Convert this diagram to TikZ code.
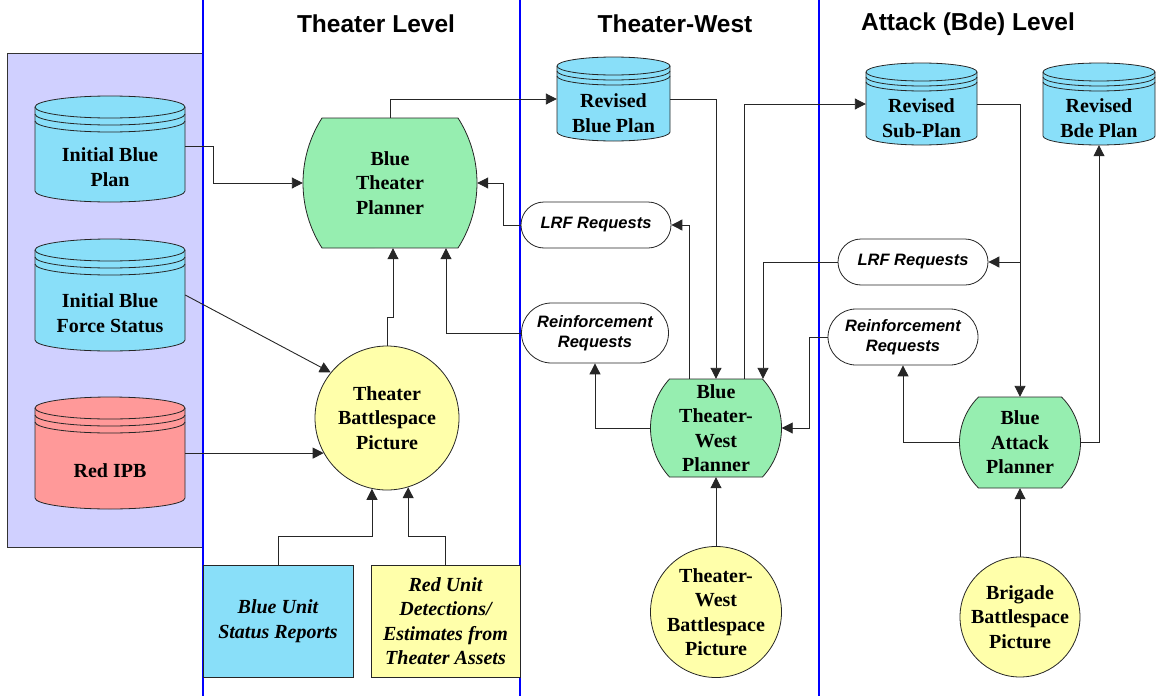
\documentclass[tikz,border=0pt]{standalone}
\usepackage{fontspec}
\setmainfont{Liberation Serif}
\newfontfamily\arialfont{Liberation Sans}
\usetikzlibrary{arrows.meta,calc,shapes.misc}

\definecolor{dbblue}{HTML}{89DFF9}
\definecolor{dbred}{HTML}{FF9999}
\definecolor{plangreen}{HTML}{96EEB0}
\definecolor{picyellow}{HTML}{FFFFAA}
\definecolor{lanefill}{HTML}{D0D0FF}
\definecolor{laneline}{HTML}{0000FF}

\tikzset{
  lbl/.style={font=\fontsize{20}{24.5}\selectfont\bfseries, align=center, text=black, inner sep=0pt},
  outline/.style={draw=black!85, line width=0.8pt},
  title/.style={font=\arialfont\fontsize{24.5}{28}\selectfont\bfseries, inner sep=0pt},
  request/.style={rounded rectangle, outline, fill=white, align=center, inner sep=0pt,
    font=\arialfont\fontsize{16.5}{20}\selectfont\bfseries\itshape},
  picture/.style={lbl, circle, outline, fill=picyellow},
  inputbox/.style={lbl, outline, font=\fontsize{20}{24.5}\selectfont\bfseries\itshape},
  link/.style={draw=black!85, line width=0.9pt},
  arr/.style={link, -{Triangle[length=11pt,width=11pt]}},
  lane/.style={draw=laneline, line width=1.3pt}
}

% planner: barrel-shaped box with bulging sides
% #1 name, #2 cx, #3 cy, #4 width, #5 height, #6 text
\newcommand\plannernode[6]{%
  \pgfmathsetmacro\pnHalfH{#5/2}%
  \pgfmathsetmacro\pnR{(\pnHalfH*\pnHalfH+19*19)/38}%
  \pgfmathsetmacro\pnA{asin(\pnHalfH/\pnR)}%
  \filldraw[outline, fill=plangreen]
    (#2-#4/2+19,#3-#5/2) -- (#2+#4/2-19,#3-#5/2)
    arc[start angle=-\pnA, end angle=\pnA, radius=\pnR]
    -- (#2-#4/2+19,#3+#5/2)
    arc[start angle=180-\pnA, end angle=180+\pnA, radius=\pnR] -- cycle;
  \node[lbl, minimum width=#4, minimum height=#5] (#1) at (#2,#3) {#6};
}

% data store: cylinder with a triple-lined lid
% #1 name, #2 cx, #3 top, #4 width, #5 height, #6 lid radius, #7 fill, #8 text
\newcommand\storenode[8]{%
  \pgfmathsetmacro\dbL{#2-#4/2}%
  \pgfmathsetmacro\dbR{#2+#4/2}%
  \pgfmathsetmacro\dbRx{#4/2}%
  \pgfmathsetmacro\dbTop{#3+#6}%
  \pgfmathsetmacro\dbBot{#3+#5-#6}%
  \pgfmathsetmacro\dbGap{#6-4}%
  \filldraw[outline, fill=#7] (\dbL,\dbTop) -- (\dbL,\dbBot)
    arc[start angle=180, end angle=0, x radius=\dbRx, y radius=#6]
    -- (\dbR,\dbTop)
    arc[start angle=0, end angle=-180, x radius=\dbRx, y radius=#6] -- cycle;
  \draw[outline] (\dbL,\dbTop) arc[start angle=180, end angle=0, x radius=\dbRx, y radius=#6];
  \draw[outline] (\dbL,\dbTop+\dbGap) arc[start angle=180, end angle=0, x radius=\dbRx, y radius=#6];
  \draw[outline] (\dbL,\dbTop+2*\dbGap) arc[start angle=180, end angle=0, x radius=\dbRx, y radius=#6];
  \pgfmathsetmacro\dbTxtTop{#3+2*#6+2*\dbGap}%
  \pgfmathsetmacro\dbTxtH{#3+#5-\dbTxtTop}%
  \pgfmathsetmacro\dbTxtC{(\dbTxtTop+#3+#5)/2}%
  \node[lbl, minimum width=#4, minimum height=\dbTxtH] (#1) at (#2,\dbTxtC) {#8};
}

\begin{document}
\begin{tikzpicture}[x=1pt,y=-1pt]
\useasboundingbox (0,0) rectangle (1156,696);

% input lane and lane separators
\filldraw[fill=lanefill, draw=black!80, line width=0.8pt] (7,53) rectangle (203,547);
\draw[lane] (203,0) -- (203,696);
\draw[lane] (520,0) -- (520,696);
\draw[lane] (819,0) -- (819,696);

% lane headings
\node[title] (hTheater) at (376,24) {Theater Level};
\node[title] (hWest) at (675,24) {Theater-West};
\node[title] (hAttack) at (968,24) {Attack (Bde) Level};

% data stores
\storenode{ibp}{110}{96}{150}{106}{11}{dbblue}{Initial Blue\\Plan}
\storenode{ibfs}{110}{239}{150}{112}{11}{dbblue}{Initial Blue\\Force Status}
\storenode{ripb}{110}{397}{150}{112}{11}{dbred}{Red IPB}
\storenode{rbp}{613.5}{57}{113}{84}{9}{dbblue}{Revised\\Blue Plan}
\storenode{rsp}{921.5}{63}{111}{82}{9}{dbblue}{Revised\\Sub-Plan}
\storenode{rbde}{1099}{63}{112}{82}{9}{dbblue}{Revised\\Bde Plan}

% planners
\plannernode{btp}{390}{183}{174}{130}{Blue\\Theater\\Planner}
\plannernode{btwp}{716}{428}{131}{98}{Blue\\Theater-\\West\\Planner}
\plannernode{bap}{1020}{442.5}{121}{91}{Blue\\Attack\\Planner}

% battlespace pictures
\node[picture, minimum size=144] (tbp) at (387,418) {Theater\\Battlespace\\Picture};
\node[picture, minimum size=130] (twbp) at (716,612) {Theater-\\West\\Battlespace\\Picture};
\node[picture, minimum size=120] (bbp) at (1020,617) {Brigade\\Battlespace\\Picture};

% requests
\node[request, minimum width=150, minimum height=46] (lrfw) at (596,225) {LRF Requests};
\node[request, minimum width=147, minimum height=60] (reinfw) at (595,333) {Reinforcement\\Requests};
\node[request, minimum width=150, minimum height=46] (lrfa) at (913,262) {LRF Requests};
\node[request, minimum width=150, minimum height=56] (reinfa) at (903,337) {Reinforcement\\Requests};

% theater inputs
\node[inputbox, fill=dbblue, minimum width=150, minimum height=112] (bus) at (278,621) {Blue Unit\\Status Reports};
\node[inputbox, fill=picyellow, minimum width=149, minimum height=112] (rud) at (445.5,621) {Red Unit\\Detections/\\Estimates from\\Theater Assets};

% theater level flows
\draw[arr] ([yshift=21pt]ibp.east) -- ++(28,0) |- (btp.west);
\draw[arr] ([yshift=18pt]ibfs.east) -- (tbp.141);
\draw[arr] (ripb.east |- tbp.209) -- (tbp.209);
\draw[arr] (tbp.north) -- ++(0,-28) -| ([xshift=3pt]btp.south);
\draw[arr] (reinfw.west) -| ([xshift=56pt]btp.south);
\draw[arr] (lrfw.west) -- ++(-17,0) |- (btp.east);
\draw[arr] (btp.north) |- ([yshift=14pt]rbp.west);
\draw[arr] (bus.north) -- ++(0,-28) -| (tbp.258);
\draw[arr] (rud.north) -- ++(0,-28) -| (tbp.287);

% theater-west flows
\draw[arr] ([yshift=14pt]rbp.east) -| (btwp.north);
\draw[arr] ([xshift=-27pt]btwp.north) |- (lrfw.east);
\draw[arr] ([xshift=28pt]btwp.north) |- ([yshift=14pt]rsp.west);
\draw[arr] (lrfa.west) -| ([xshift=47pt]btwp.north);
\draw[arr] (reinfa.west) -- ++(-18,0) |- (btwp.east);
\draw[arr] (btwp.west) -| (reinfw.south);
\draw[arr] (twbp.north) -- (btwp.south);

% attack level flows
\draw[arr] ([yshift=14pt]rsp.east) -| (bap.north);
\draw[arr] (bap.north |- lrfa.east) -- (lrfa.east);
\draw[arr] (bap.east) -| (rbde.south);
\draw[arr] (bap.west) -| (reinfa.south);
\draw[arr] (bbp.north) -- (bap.south);
\end{tikzpicture}
\end{document}
